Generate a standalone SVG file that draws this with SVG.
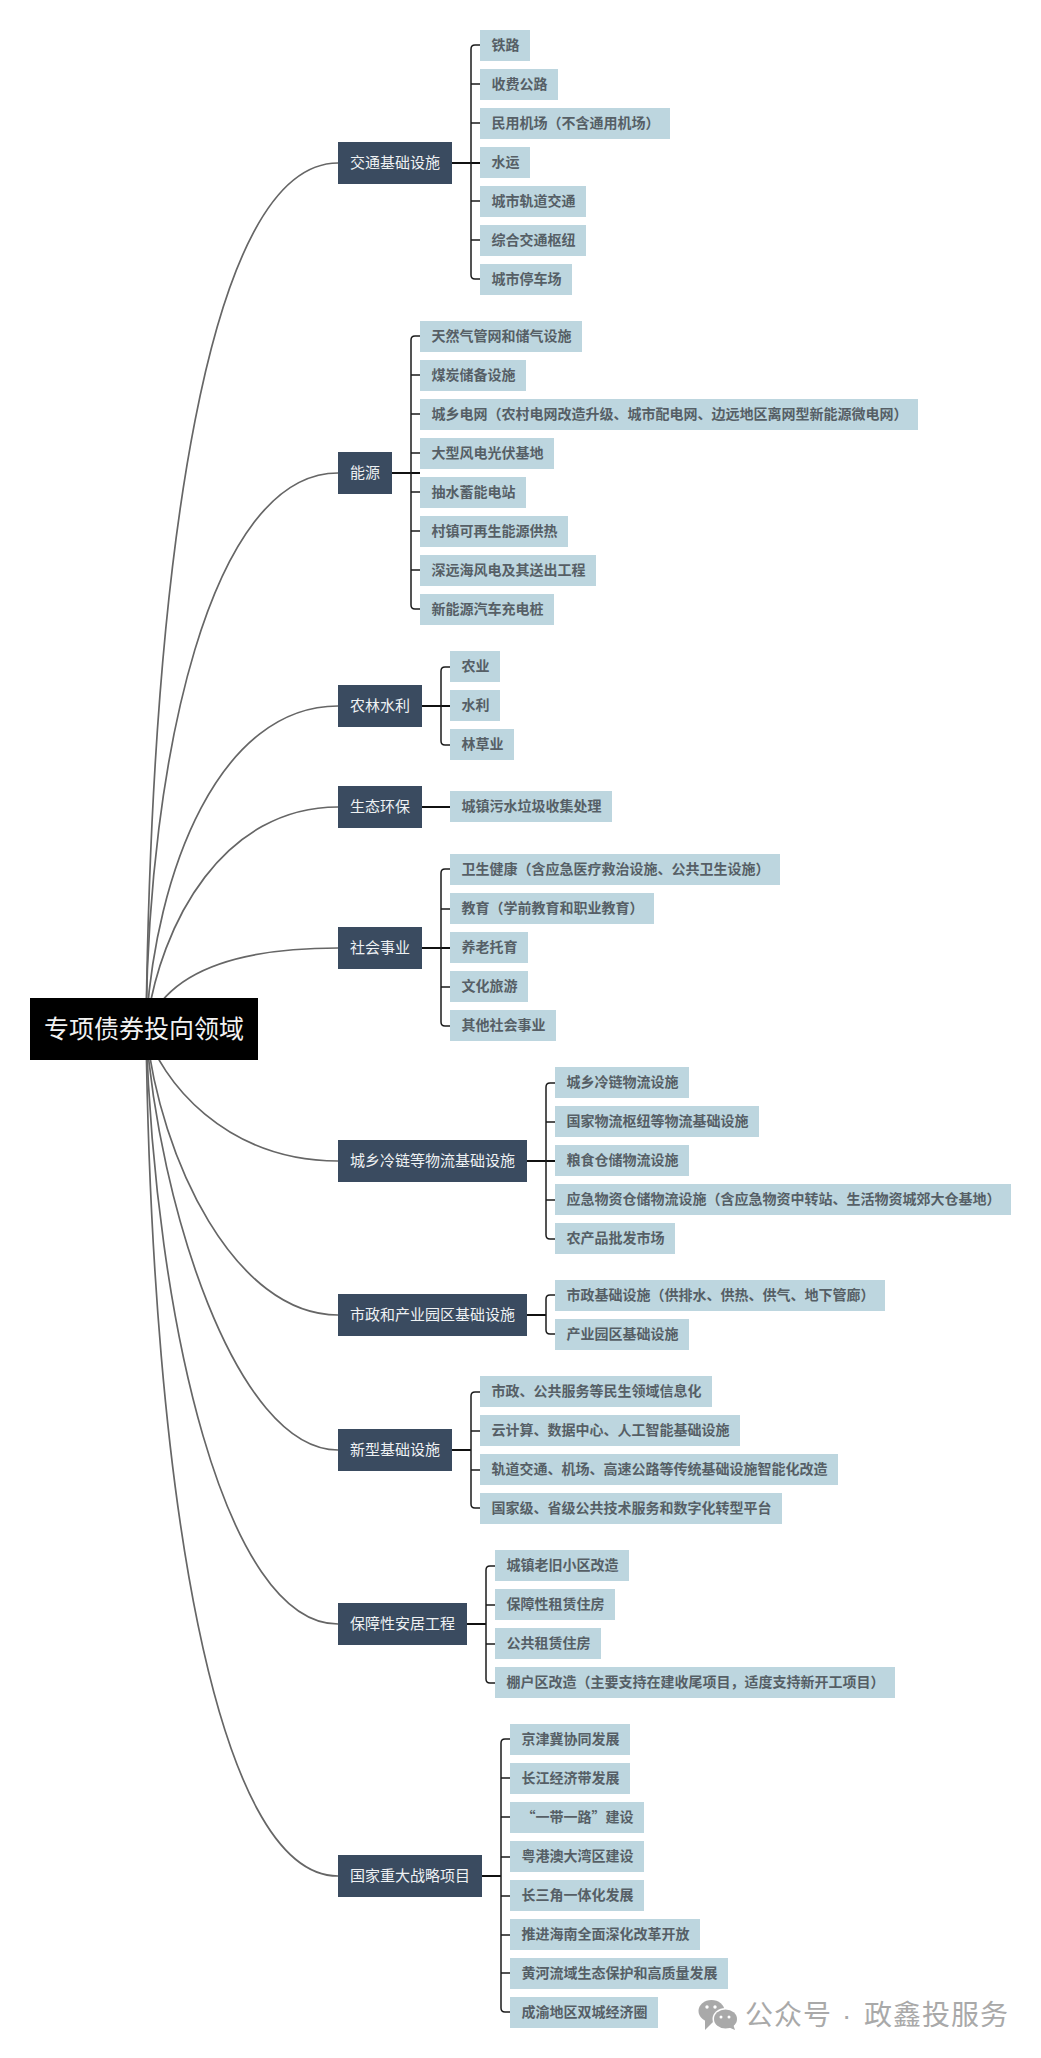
<svg xmlns="http://www.w3.org/2000/svg" width="1041" height="2058" viewBox="0 0 1041 2058">
<style>
text{font-family:"Noto Sans CJK SC","Noto Sans",sans-serif}
.c{fill:none;stroke:#666;stroke-width:1.7}
.b{fill:none;stroke:#1c1c1c;stroke-width:1.5}
.s{fill:none;stroke:#111;stroke-width:2}
.n{fill:#3a4b60}
.l{fill:#bdd6df}
.nt{fill:#eef1f3;font-size:15px}
.lt{fill:#565f66;font-size:14px;font-weight:700}
.w{fill:#a9a9a9}
</style>
<rect width="1041" height="2058" fill="#fff"/>
<g id="connectors">
<path class="c" d="M146 1029C152 560 207 163 338 163"/>
<path class="c" d="M146 1029C148 760 210 473 338 473"/>
<path class="c" d="M146 1029C155 870 220 706 338 706"/>
<path class="c" d="M146 1029C160 920 225 807 338 807"/>
<path class="c" d="M146 1029C165 975 230 948 338 948"/>
<path class="c" d="M146 1029C160 1080 225 1161 338 1161"/>
<path class="c" d="M146 1029C160 1160 235 1315 338 1315"/>
<path class="c" d="M146 1029C158 1200 235 1450 338 1450"/>
<path class="c" d="M146 1029C155 1320 225 1624 338 1624"/>
<path class="c" d="M146 1029C152 1490 215 1876 338 1876"/>
<path class="s" d="M452 163H480M392 473H420M422 706H450M422 807H450M422 948H450M527 1161H555M527 1315H546M452 1450H471M467 1624H486M482 1876H501"/>
<path class="b" d="M480 45H475Q471 45 471 49V275Q471 279 475 279H480M471 84H480M471 123H480M471 201H480M471 240H480"/>
<path class="b" d="M420 336H415Q411 336 411 340V605Q411 609 415 609H420M411 375H420M411 414H420M411 453H420M411 492H420M411 531H420M411 570H420"/>
<path class="b" d="M450 667H445Q441 667 441 671V741Q441 745 445 745H450"/>
<path class="b" d="M450 869H445Q441 869 441 873V1022Q441 1026 445 1026H450M441 909H450M441 987H450"/>
<path class="b" d="M555 1083H550Q546 1083 546 1087V1235Q546 1239 550 1239H555M546 1122H555M546 1200H555"/>
<path class="b" d="M555 1295H550Q546 1295 546 1299V1330Q546 1334 550 1334H555"/>
<path class="b" d="M480 1392H475Q471 1392 471 1396V1504Q471 1508 475 1508H480M471 1431H480M471 1470H480"/>
<path class="b" d="M495 1566H490Q486 1566 486 1570V1679Q486 1683 490 1683H495M486 1605H495M486 1644H495"/>
<path class="b" d="M510 1739H505Q501 1739 501 1743V2008Q501 2012 505 2012H510M501 1778H510M501 1817H510M501 1857H510M501 1896H510M501 1935H510M501 1973H510"/>
</g>
<g id="root"><rect x="30" y="998" width="228" height="62" fill="#000"/><text x="44" y="1038" fill="#f2f2f2" font-size="25">专项债券投向领域</text></g>
<g id="n1"><rect class="n" x="338" y="142" width="114" height="42"/><text class="nt" x="350" y="168">交通基础设施</text></g>
<g id="n2"><rect class="n" x="338" y="452" width="54" height="42"/><text class="nt" x="350" y="478">能源</text></g>
<g id="n3"><rect class="n" x="338" y="685" width="84" height="42"/><text class="nt" x="350" y="711">农林水利</text></g>
<g id="n4"><rect class="n" x="338" y="786" width="84" height="42"/><text class="nt" x="350" y="812">生态环保</text></g>
<g id="n5"><rect class="n" x="338" y="927" width="84" height="42"/><text class="nt" x="350" y="953">社会事业</text></g>
<g id="n6"><rect class="n" x="338" y="1140" width="189" height="42"/><text class="nt" x="350" y="1166">城乡冷链等物流基础设施</text></g>
<g id="n7"><rect class="n" x="338" y="1294" width="189" height="42"/><text class="nt" x="350" y="1320">市政和产业园区基础设施</text></g>
<g id="n8"><rect class="n" x="338" y="1429" width="114" height="42"/><text class="nt" x="350" y="1455">新型基础设施</text></g>
<g id="n9"><rect class="n" x="338" y="1603" width="129" height="42"/><text class="nt" x="350" y="1629">保障性安居工程</text></g>
<g id="n10"><rect class="n" x="338" y="1855" width="144" height="42"/><text class="nt" x="350" y="1881">国家重大战略项目</text></g>
<g id="l1-1"><rect class="l" x="480" y="30" width="50" height="31"/><text class="lt" x="491.5" y="50">铁路</text></g>
<g id="l1-2"><rect class="l" x="480" y="69" width="78" height="31"/><text class="lt" x="491.5" y="89">收费公路</text></g>
<g id="l1-3"><rect class="l" x="480" y="108" width="190" height="31"/><text class="lt" x="491.5" y="128">民用机场（不含通用机场）</text></g>
<g id="l1-4"><rect class="l" x="480" y="147" width="50" height="31"/><text class="lt" x="491.5" y="167">水运</text></g>
<g id="l1-5"><rect class="l" x="480" y="186" width="106" height="31"/><text class="lt" x="491.5" y="206">城市轨道交通</text></g>
<g id="l1-6"><rect class="l" x="480" y="225" width="106" height="31"/><text class="lt" x="491.5" y="245">综合交通枢纽</text></g>
<g id="l1-7"><rect class="l" x="480" y="264" width="92" height="31"/><text class="lt" x="491.5" y="284">城市停车场</text></g>
<g id="l2-1"><rect class="l" x="420" y="321" width="162" height="31"/><text class="lt" x="431.5" y="341">天然气管网和储气设施</text></g>
<g id="l2-2"><rect class="l" x="420" y="360" width="106" height="31"/><text class="lt" x="431.5" y="380">煤炭储备设施</text></g>
<g id="l2-3"><rect class="l" x="420" y="399" width="498" height="31"/><text class="lt" x="431.5" y="419">城乡电网（农村电网改造升级、城市配电网、边远地区离网型新能源微电网）</text></g>
<g id="l2-4"><rect class="l" x="420" y="438" width="134" height="31"/><text class="lt" x="431.5" y="458">大型风电光伏基地</text></g>
<g id="l2-5"><rect class="l" x="420" y="477" width="106" height="31"/><text class="lt" x="431.5" y="497">抽水蓄能电站</text></g>
<g id="l2-6"><rect class="l" x="420" y="516" width="148" height="31"/><text class="lt" x="431.5" y="536">村镇可再生能源供热</text></g>
<g id="l2-7"><rect class="l" x="420" y="555" width="176" height="31"/><text class="lt" x="431.5" y="575">深远海风电及其送出工程</text></g>
<g id="l2-8"><rect class="l" x="420" y="594" width="134" height="31"/><text class="lt" x="431.5" y="614">新能源汽车充电桩</text></g>
<g id="l3-1"><rect class="l" x="450" y="651" width="50" height="31"/><text class="lt" x="461.5" y="671">农业</text></g>
<g id="l3-2"><rect class="l" x="450" y="690" width="50" height="31"/><text class="lt" x="461.5" y="710">水利</text></g>
<g id="l3-3"><rect class="l" x="450" y="729" width="64" height="31"/><text class="lt" x="461.5" y="749">林草业</text></g>
<g id="l4-1"><rect class="l" x="450" y="791" width="162" height="31"/><text class="lt" x="461.5" y="811">城镇污水垃圾收集处理</text></g>
<g id="l5-1"><rect class="l" x="450" y="854" width="330" height="31"/><text class="lt" x="461.5" y="874">卫生健康（含应急医疗救治设施、公共卫生设施）</text></g>
<g id="l5-2"><rect class="l" x="450" y="893" width="204" height="31"/><text class="lt" x="461.5" y="913">教育（学前教育和职业教育）</text></g>
<g id="l5-3"><rect class="l" x="450" y="932" width="78" height="31"/><text class="lt" x="461.5" y="952">养老托育</text></g>
<g id="l5-4"><rect class="l" x="450" y="971" width="78" height="31"/><text class="lt" x="461.5" y="991">文化旅游</text></g>
<g id="l5-5"><rect class="l" x="450" y="1010" width="106" height="31"/><text class="lt" x="461.5" y="1030">其他社会事业</text></g>
<g id="l6-1"><rect class="l" x="555" y="1067" width="134" height="31"/><text class="lt" x="566.5" y="1087">城乡冷链物流设施</text></g>
<g id="l6-2"><rect class="l" x="555" y="1106" width="204" height="31"/><text class="lt" x="566.5" y="1126">国家物流枢纽等物流基础设施</text></g>
<g id="l6-3"><rect class="l" x="555" y="1145" width="134" height="31"/><text class="lt" x="566.5" y="1165">粮食仓储物流设施</text></g>
<g id="l6-4"><rect class="l" x="555" y="1184" width="456" height="31"/><text class="lt" x="566.5" y="1204">应急物资仓储物流设施（含应急物资中转站、生活物资城郊大仓基地）</text></g>
<g id="l6-5"><rect class="l" x="555" y="1223" width="120" height="31"/><text class="lt" x="566.5" y="1243">农产品批发市场</text></g>
<g id="l7-1"><rect class="l" x="555" y="1280" width="330" height="31"/><text class="lt" x="566.5" y="1300">市政基础设施（供排水、供热、供气、地下管廊）</text></g>
<g id="l7-2"><rect class="l" x="555" y="1319" width="134" height="31"/><text class="lt" x="566.5" y="1339">产业园区基础设施</text></g>
<g id="l8-1"><rect class="l" x="480" y="1376" width="232" height="31"/><text class="lt" x="491.5" y="1396">市政、公共服务等民生领域信息化</text></g>
<g id="l8-2"><rect class="l" x="480" y="1415" width="260" height="31"/><text class="lt" x="491.5" y="1435">云计算、数据中心、人工智能基础设施</text></g>
<g id="l8-3"><rect class="l" x="480" y="1454" width="358" height="31"/><text class="lt" x="491.5" y="1474">轨道交通、机场、高速公路等传统基础设施智能化改造</text></g>
<g id="l8-4"><rect class="l" x="480" y="1493" width="302" height="31"/><text class="lt" x="491.5" y="1513">国家级、省级公共技术服务和数字化转型平台</text></g>
<g id="l9-1"><rect class="l" x="495" y="1550" width="134" height="31"/><text class="lt" x="506.5" y="1570">城镇老旧小区改造</text></g>
<g id="l9-2"><rect class="l" x="495" y="1589" width="120" height="31"/><text class="lt" x="506.5" y="1609">保障性租赁住房</text></g>
<g id="l9-3"><rect class="l" x="495" y="1628" width="106" height="31"/><text class="lt" x="506.5" y="1648">公共租赁住房</text></g>
<g id="l9-4"><rect class="l" x="495" y="1667" width="400" height="31"/><text class="lt" x="506.5" y="1687">棚户区改造（主要支持在建收尾项目，适度支持新开工项目）</text></g>
<g id="l10-1"><rect class="l" x="510" y="1724" width="120" height="31"/><text class="lt" x="521.5" y="1744">京津冀协同发展</text></g>
<g id="l10-2"><rect class="l" x="510" y="1763" width="120" height="31"/><text class="lt" x="521.5" y="1783">长江经济带发展</text></g>
<g id="l10-3"><rect class="l" x="510" y="1802" width="134" height="31"/><text class="lt" x="521.5" y="1822">“一带一路”建设</text></g>
<g id="l10-4"><rect class="l" x="510" y="1841" width="134" height="31"/><text class="lt" x="521.5" y="1861">粤港澳大湾区建设</text></g>
<g id="l10-5"><rect class="l" x="510" y="1880" width="134" height="31"/><text class="lt" x="521.5" y="1900">长三角一体化发展</text></g>
<g id="l10-6"><rect class="l" x="510" y="1919" width="190" height="31"/><text class="lt" x="521.5" y="1939">推进海南全面深化改革开放</text></g>
<g id="l10-7"><rect class="l" x="510" y="1958" width="218" height="31"/><text class="lt" x="521.5" y="1978">黄河流域生态保护和高质量发展</text></g>
<g id="l10-8"><rect class="l" x="510" y="1997" width="148" height="31"/><text class="lt" x="521.5" y="2017">成渝地区双城经济圈</text></g>
<g id="watermark">
<ellipse class="w" cx="711.5" cy="2011" rx="13" ry="11"/><path class="w" d="M705 2019L705 2030L713 2022Z"/>
<ellipse cx="725.5" cy="2019" rx="13" ry="11" fill="#fff"/><ellipse class="w" cx="725.5" cy="2019" rx="11.5" ry="9.5"/><path class="w" d="M728 2027L735 2030L733 2024Z"/>
<circle cx="707" cy="2007" r="1.7" fill="#fff"/><circle cx="715" cy="2007" r="1.7" fill="#fff"/><circle cx="721" cy="2017" r="1.5" fill="#fff"/><circle cx="729" cy="2017" r="1.5" fill="#fff"/>
<text class="w" x="745" y="2025" font-size="28" letter-spacing="1">公众号 <tspan x="842" style="font-family:'Liberation Sans',sans-serif">·</tspan> <tspan x="864">政鑫投服务</tspan></text>
</g>
</svg>
